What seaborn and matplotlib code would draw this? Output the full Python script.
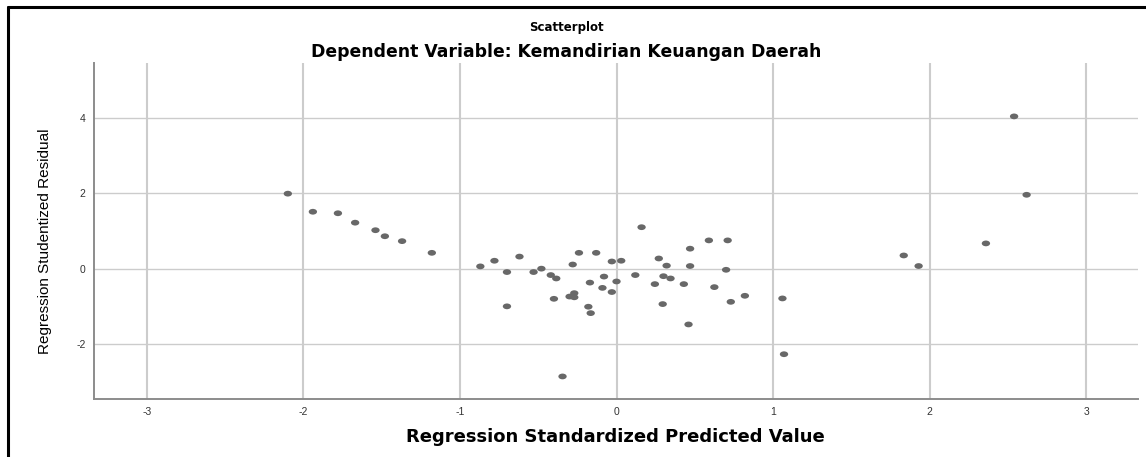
"""Residual scatterplot (SPSS style) for Kemandirian Keuangan Daerah."""

import matplotlib
matplotlib.use("Agg")
import matplotlib.pyplot as plt
import numpy as np
import pandas as pd
import seaborn as sns
from matplotlib.lines import Line2D
from matplotlib.path import Path
from matplotlib.transforms import Affine2D

# Values
pred_value = [
    -2.10, -1.94, -1.78, -1.67, -1.54, -1.48, -1.37, -1.18, -0.87, -0.78,
    -0.70, -0.70, -0.62, -0.53, -0.48, -0.42, -0.385, -0.40, -0.345, -0.30,
    -0.27, -0.27, -0.28, -0.24, -0.18, -0.165, -0.17, -0.13, -0.09, -0.08,
    -0.03, -0.03, 0.00, 0.03, 0.12, 0.16, 0.245, 0.27, 0.295, 0.30,
    0.32, 0.345, 0.43, 0.46, 0.47, 0.47, 0.59, 0.625, 0.70, 0.71,
    0.73, 0.82, 1.06, 1.07, 1.835, 1.93, 2.36, 2.54, 2.62,
]
stud_resid = [
    1.99, 1.51, 1.47, 1.22, 1.02, 0.86, 0.73, 0.42, 0.06, 0.21,
    -0.09, -1.00, 0.32, -0.09, 0.00, -0.17, -0.26, -0.80, -2.86, -0.74,
    -0.65, -0.76, 0.11, 0.42, -1.01, -1.18, -0.37, 0.42, -0.51, -0.21,
    -0.62, 0.19, -0.34, 0.21, -0.17, 1.10, -0.41, 0.27, -0.94, -0.20,
    0.08, -0.26, -0.41, -1.48, 0.53, 0.07, 0.75, -0.49, -0.03, 0.75,
    -0.88, -0.72, -0.79, -2.27, 0.35, 0.07, 0.67, 4.04, 1.96,
]
x_ticks = [-3, -2, -1, 0, 1, 2, 3]
y_ticks = [-2, 0, 2, 4]

title_main = "Scatterplot"
title_sub = "Dependent Variable: Kemandirian Keuangan Daerah"
x_label = "Regression Standardized Predicted Value"
y_label = "Regression Studentized Residual"

df = pd.DataFrame({"pred": pred_value, "resid": stud_resid})

sns.set_style("white")
plt.rcParams["font.family"] = ["Liberation Sans", "DejaVu Sans"]
plt.rcParams["axes.unicode_minus"] = False

fig = plt.figure(figsize=(11.46, 4.57), dpi=100)
ax = fig.add_axes([0.0818, 0.1276, 0.911, 0.734])

# slightly wide dots, like the stretched original
dot = Path.unit_circle().transformed(Affine2D().scale(1.45, 1.0))
sns.scatterplot(data=df, x="pred", y="resid", ax=ax, marker=dot,
                s=36, color="#686868", edgecolor="none", linewidth=0, zorder=3)

ax.set_xlim(-3.34, 3.33)
ax.set_ylim(-3.45, 5.45)
ax.set_xticks(x_ticks)
ax.set_yticks(y_ticks)
ax.tick_params(length=0, labelsize=7.5, colors="#333333", pad=6)

for xv in x_ticks:
    ax.axvline(xv, color="#cccccc", lw=1.5, zorder=1)
for yv in y_ticks:
    ax.axhline(yv, color="#cccccc", lw=1.0, zorder=1)

for side in ["top", "right"]:
    ax.spines[side].set_visible(False)
for side in ["left", "bottom"]:
    ax.spines[side].set_color("#8c8c8c")
    ax.spines[side].set_linewidth(1.4)

ax.set_xlabel("")
ax.set_ylabel("")

# titles and axis labels placed like in the SPSS export
fig.text(0.494, 1 - 28 / 457, title_main, ha="center", va="center",
         fontsize=8.5, fontweight="bold", family="DejaVu Sans", color="black")
fig.text(0.494, 1 - 52 / 457, title_sub, ha="center", va="center",
         fontsize=12.4, fontweight="bold", family="DejaVu Sans", color="black")
fig.text(0.537, 1 - 437 / 457, x_label, ha="center", va="center",
         fontsize=13, fontweight="bold", family="DejaVu Sans", color="black")
fig.text(45 / 1146, 1 - 241 / 457, y_label, ha="center", va="center",
         rotation=90, fontsize=11, color="black")

# black frame on top and left edge
fig.add_artist(Line2D([8 / 1146, 1.0], [1 - 7 / 457, 1 - 7 / 457],
                      transform=fig.transFigure, color="black", lw=2.2))
fig.add_artist(Line2D([8 / 1146, 8 / 1146], [0.0, 1 - 7 / 457],
                      transform=fig.transFigure, color="black", lw=2.2))

fig.savefig("out.png", dpi=100)
